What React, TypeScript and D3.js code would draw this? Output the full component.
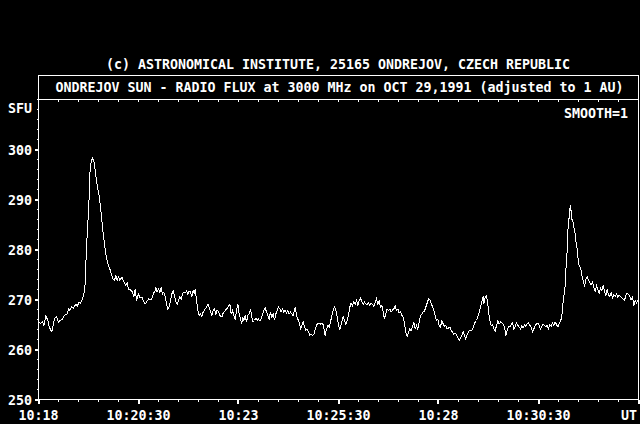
import React, { useEffect } from "react";
import * as d3 from "d3";

// ---- Data (seconds after 10:18:00 UT, flux in SFU) ----
const timeSec: number[] = [
  1, 3, 6, 8, 11, 14, 16, 20, 22, 24,
  27, 30, 32, 36, 39, 43, 45, 47, 50, 52,
  56, 58, 61, 63, 66, 68, 70, 72, 74, 76,
  77, 79, 81, 83, 85, 87, 89, 91, 93, 95,
  97, 99, 101, 103, 105, 107, 110, 112, 114, 116,
  118, 120, 122, 125, 128, 131, 133, 135, 138, 141,
  143, 145, 147, 150, 152,
  155, 157, 160, 162, 165, 167, 170, 172, 175, 176,
  178, 180, 182, 184, 186, 188, 190, 192, 194, 196,
  198, 200, 202, 204, 206, 208, 210, 212, 214, 216,
  218, 220, 222, 224, 226, 228, 230, 232, 234, 235,
  237, 239, 241, 243, 245, 247, 250, 252, 254, 256,
  258, 260, 262, 264, 266, 268, 270, 272, 275, 277,
  280, 282, 285, 287, 289, 291, 293, 295, 297, 299,
  301,
  303, 305, 306, 308, 310, 312, 314, 316, 318, 320,
  322, 324, 326, 328, 330, 332, 334, 336, 338, 340,
  342, 344, 346, 348, 350, 352, 354, 356, 358, 360,
  362, 364, 366, 368, 370, 372, 374, 376, 378, 380,
  382, 384, 385, 387, 389, 391, 393, 395, 397, 399,
  401, 403, 405, 407, 409, 411, 413, 415, 417, 419,
  421, 423, 425, 427, 429, 430, 432, 434, 436, 438,
  440, 442, 444, 446, 448, 450, 452,
  453, 455, 457, 459, 461, 463, 465, 467, 469, 471,
  473, 475, 477, 479, 481, 483, 485, 487, 489, 491,
  493, 495, 497, 499, 501, 503, 505, 507, 509, 511,
  513, 515, 517, 519, 521, 523, 525, 527, 529, 531,
  533, 535, 537, 539, 541, 543, 545, 547, 549, 551,
  553, 555, 557, 559, 561, 563, 565, 567, 569, 571,
  573, 575, 577, 579, 581, 583, 585, 587, 589, 591,
  593, 595, 597, 599, 601,
  603, 605, 607, 609, 611, 613, 615, 617, 619, 621,
  623, 625, 627, 629, 631, 633, 635, 637, 639, 641,
  643, 645, 647, 649, 651, 653, 655, 657, 659, 661,
  663, 665, 667, 668, 670, 672, 674, 675, 677, 679,
  681, 683, 685, 687, 689, 691, 693, 695, 697, 699,
  701, 703, 705, 707, 709, 711, 713, 715, 717, 719,
  721, 723, 725, 727, 729, 731, 733, 735, 737, 739,
  741, 743, 745, 747, 749, 751,
  753, 755, 757, 759, 761, 763, 765, 767, 769, 771,
  773, 775, 777, 779, 781, 783, 785, 786, 788, 790,
  791, 793, 794, 796, 797, 798, 799, 800, 802, 803,
  805, 806, 808, 809, 811, 812, 814, 815, 817, 819,
  821, 823, 825, 827, 829, 831, 833, 835, 837, 839,
  841, 843, 845, 847, 849, 851, 853, 855, 857, 859,
  861, 863, 865, 867, 869, 871, 873, 875, 877, 879,
  881, 883, 885, 887, 889, 891, 893, 895, 897, 899,
];

const fluxSfu: number[] = [
  265.5, 265.2, 265.6, 264.8, 266.8, 265.8, 264.5, 263.5, 264.8, 266.2,
  266.5, 265.5, 265.8, 266.1, 266.8, 267.1, 268.1, 267.8, 268.6, 268.2,
  269.1, 268.6, 269.5, 269.2, 270.1, 271.1, 273.1, 280.5, 285.2, 290.5,
  295.1, 297.5, 298.3, 297.8, 295.8, 293.8, 292.1, 290.8, 288.5, 285.8,
  283.1, 281.1, 279.1, 277.8, 276.8, 276.1, 274.8, 274.1, 273.8, 274.8,
  273.8, 274.5, 273.8, 274.5, 273.5, 272.8, 273.3, 272.1, 271.9, 271.5,
  270.5, 272.1, 269.8, 271.1, 270.5,
  270.5, 269.8, 269.1, 269.5, 270.1, 270.0, 270.1, 271.1, 271.8, 272.3,
  271.5, 272.1, 271.5, 272.3, 271.1, 271.5, 270.5, 269.1, 268.1, 268.5,
  269.8, 271.1, 271.7, 270.8, 269.5, 269.0, 269.8, 270.5, 270.0, 271.1,
  271.5, 271.3, 271.7, 271.1, 271.7, 271.5, 270.6, 271.8, 271.1, 272.1,
  269.8, 267.8, 266.8, 267.1, 266.6, 267.5, 268.1, 268.5, 269.1, 268.5,
  267.5, 266.8, 267.8, 268.1, 267.1, 267.9, 267.5, 266.8, 266.5, 267.3,
  267.8, 268.1, 268.6, 269.1, 267.1, 267.8, 266.8, 266.1, 267.8, 269.1,
  267.1,
  266.1, 265.1, 266.5, 265.8, 266.8, 265.5, 266.8, 267.1, 268.1, 266.5,
  265.5, 265.8, 266.3, 265.8, 266.1, 265.7, 266.1, 267.1, 267.8, 268.3,
  267.5, 266.8, 266.1, 267.5, 266.5, 267.1, 265.9, 267.1, 267.8, 268.5,
  268.1, 267.5, 268.1, 267.5, 267.8, 267.3, 267.8, 267.1, 267.5, 267.1,
  266.8, 267.9, 268.5, 266.8, 266.1, 265.5, 264.1, 264.8, 265.5, 264.5,
  263.8, 264.1, 263.5, 262.8, 263.1, 262.8, 263.0, 264.1, 264.8, 265.3,
  265.3, 265.1, 265.3, 265.0, 263.5, 262.8, 264.1, 264.8, 264.5, 265.5,
  266.8, 267.8, 268.5, 267.8, 266.5, 264.8, 264.1,
  264.5, 265.5, 266.5, 265.8, 265.1, 265.8, 266.8, 268.5, 269.3, 268.8,
  269.5, 269.0, 269.8, 268.8, 269.9, 270.3, 269.5, 269.0, 269.5, 269.1,
  269.0, 269.3, 268.8, 269.3, 269.0, 268.6, 269.3, 270.1, 269.1, 269.7,
  268.5, 268.8, 267.5, 266.1, 267.1, 268.1, 267.8, 268.1, 267.5, 267.9,
  268.1, 268.8, 267.8, 268.1, 267.3, 267.5, 266.8, 266.5, 265.1, 263.5,
  262.6, 263.5, 264.1, 263.8, 264.5, 265.5, 264.1, 264.8, 264.1, 265.5,
  266.8, 267.1, 267.5, 267.7, 268.5, 269.3, 270.1, 269.9, 269.3, 268.5,
  267.8, 266.8, 265.8, 266.1, 264.8,
  264.5, 265.8, 265.1, 264.6, 264.8, 264.1, 264.3, 264.5, 263.8, 263.5,
  263.0, 263.3, 263.0, 262.3, 261.8, 262.3, 262.8, 263.5, 262.8, 262.1,
  263.0, 263.5, 263.9, 263.7, 264.1, 264.8, 265.5, 265.8, 266.5, 267.5,
  268.5, 269.5, 270.6, 269.1, 270.5, 270.8, 269.1, 267.5, 265.8, 264.8,
  265.0, 264.1, 263.7, 264.8, 265.7, 265.1, 265.5, 265.3, 265.1, 264.5,
  262.8, 263.8, 264.6, 264.5, 265.0, 265.3, 264.1, 264.6, 265.3, 264.8,
  264.5, 264.1, 264.8, 264.3, 265.0, 264.6, 265.1, 265.3, 264.8, 264.5,
  263.5, 264.1, 264.8, 265.1, 265.3, 264.8,
  264.1, 264.6, 265.1, 264.8, 264.5, 264.8, 264.1, 265.0, 264.6, 265.3,
  264.8, 265.5, 265.0, 264.5, 265.1, 265.7, 266.5, 268.5, 270.5, 272.8,
  275.8, 279.8, 283.8, 286.5, 288.1, 288.8, 287.5, 286.1, 285.5, 284.5,
  283.1, 281.8, 280.1, 278.5, 276.8, 276.6, 275.8, 274.8, 273.8, 272.6,
  274.1, 274.6, 273.9, 273.3, 273.0, 273.5, 272.5, 271.5, 272.8, 272.1,
  271.1, 272.3, 271.8, 272.8, 271.7, 270.8, 272.0, 271.0, 270.5, 271.5,
  270.1, 271.0, 270.6, 271.1, 270.5, 270.8, 270.6, 270.3, 270.1, 269.8,
  270.8, 271.3, 271.0, 270.6, 269.9, 270.5, 268.8, 269.8, 269.3, 269.8,
];

const xTickLabels: string[] = ["10:18", "10:20:30", "10:23", "10:25:30", "10:28", "10:30:30"];
const yTickLabels: number[] = [250, 260, 270, 280, 290, 300];
const creditText = "(c) ASTRONOMICAL INSTITUTE, 25165 ONDREJOV, CZECH REPUBLIC";
const titleText = "ONDREJOV SUN - RADIO FLUX at 3000 MHz on OCT 29,1991 (adjusted to 1 AU)";

const W = 640;
const H = 424;
const LEFT = 38.5;
const RIGHT = 638.5;
const TOP = 99.5;
const BOTTOM = 399.5;
const BOX_TOP = 75.5;
const FONT = "'DejaVu Sans Mono', 'Liberation Mono', monospace";

type LabelProps = {
  x: number;
  y: number;
  anchor?: "start" | "middle" | "end";
  children: React.ReactNode;
};

function Label({ x, y, anchor = "start", children }: LabelProps) {
  return (
    <text
      transform={`translate(${x},${y}) scale(1,1.12)`}
      fill="#fff"
      fontFamily={FONT}
      fontSize={13.3}
      fontWeight="bold"
      textAnchor={anchor}
    >
      {children}
    </text>
  );
}

export default function App() {
  useEffect(() => {
    document.body.style.margin = "0";
    document.body.style.background = "#000";
  }, []);

  const x = d3.scaleLinear().domain([0, 900]).range([LEFT, RIGHT]);
  const y = d3.scaleLinear().domain([250, 310]).range([BOTTOM, TOP]);

  const pts: [number, number][] = timeSec.map((t, i) => [t, fluxSfu[i]]);
  const line = d3
    .line<[number, number]>()
    .x((d) => x(d[0]))
    .y((d) => y(d[1]));

  const minorX = d3.range(0, 901, 30);
  const majorX = d3.range(0, 901, 150);
  const minorY = d3.range(250, 311, 2);

  return (
    <svg width={W} height={H} style={{ display: "block", background: "#000" }}>
      <rect x={0} y={0} width={W} height={H} fill="#000" />
      <Label x={338} y={68.5} anchor="middle">
        {creditText}
      </Label>
      {/* title box */}
      <path
        d={`M${LEFT},${BOTTOM}V${BOX_TOP}H${RIGHT}V${BOTTOM}`}
        fill="none"
        stroke="#fff"
        strokeWidth={1}
        shapeRendering="crispEdges"
      />
      <line x1={LEFT} x2={RIGHT} y1={TOP} y2={TOP} stroke="#fff" shapeRendering="crispEdges" />
      <Label x={339.5} y={92} anchor="middle">
        {titleText}
      </Label>
      {/* top ticks */}
      {minorX.map((t) => (
        <line
          key={"tt" + t}
          x1={x(t)}
          x2={x(t)}
          y1={TOP}
          y2={TOP + 2}
          stroke="#fff"
          shapeRendering="crispEdges"
        />
      ))}
      {/* bottom axis */}
      <line x1={LEFT} x2={RIGHT} y1={BOTTOM} y2={BOTTOM} stroke="#fff" shapeRendering="crispEdges" />
      {minorX.map((t) => (
        <line
          key={"bt" + t}
          x1={x(t)}
          x2={x(t)}
          y1={BOTTOM}
          y2={BOTTOM + 2}
          stroke="#fff"
          shapeRendering="crispEdges"
        />
      ))}
      {majorX.map((t) => (
        <rect
          key={"bm" + t}
          x={Math.round(x(t)) - 1}
          y={BOTTOM}
          width={2}
          height={4}
          fill="#fff"
          shapeRendering="crispEdges"
        />
      ))}
      {xTickLabels.map((lab, i) => (
        <Label key={lab} x={x(majorX[i])} y={420} anchor="middle">
          {lab}
        </Label>
      ))}
      <Label x={637} y={420} anchor="end">
        UT
      </Label>
      {/* left axis ticks */}
      {minorY.map((v) => (
        <line
          key={"ym" + v}
          x1={LEFT - 2}
          x2={LEFT}
          y1={y(v)}
          y2={y(v)}
          stroke="#fff"
          shapeRendering="crispEdges"
        />
      ))}
      {yTickLabels.map((v) => (
        <g key={"yl" + v}>
          <rect
            x={LEFT - 3.5}
            y={Math.round(y(v)) - 1}
            width={3}
            height={2}
            fill="#fff"
            shapeRendering="crispEdges"
          />
          <Label x={32} y={y(v) + 5} anchor="end">
            {v}
          </Label>
        </g>
      ))}
      <Label x={8} y={112.5}>
        SFU
      </Label>
      <Label x={628} y={118} anchor="end">
        SMOOTH=1
      </Label>
      {/* data */}
      <path
        d={line(pts) || ""}
        fill="none"
        stroke="#fff"
        strokeWidth={1}
        shapeRendering="crispEdges"
      />
    </svg>
  );
}
